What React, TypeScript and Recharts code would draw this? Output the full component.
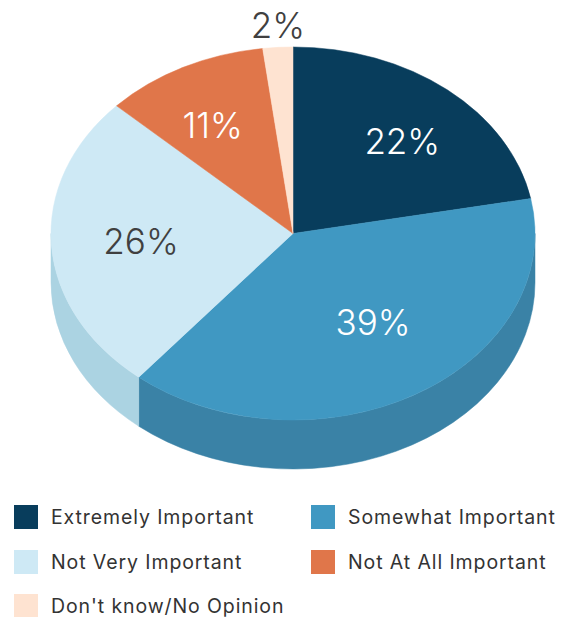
import { Legend, Pie, PieChart } from 'recharts';

const categories = ['Extremely Important', 'Somewhat Important', 'Not Very Important', 'Not At All Important', "Don't know/No Opinion"];
const shares = [22, 39, 26, 11, 2];
const topColors = ['#083d5c', '#4098c2', '#cee9f5', '#e0764a', '#fee3d1'];
const wallColors = ['#062f47', '#3a82a6', '#abd3e2', '#c0633c', '#e5ccbb'];
const labelColors = ['#ffffff', '#ffffff', '#404040', '#ffffff', '#404040'];
// fine tuning of where each percent sits, px
const labelNudge = [[9, 1], [0, -16], [5, 0], [-9, 0], [2, 0]];

const SQUASH = 0.7707; // ry / rx of the tilted disc
const DEPTH = 49;
const RAD = Math.PI / 180;

const topData = categories.map((name, i) => ({ name, value: shares[i], fill: topColors[i] }));
const wallData = categories.map((name, i) => ({ name, value: shares[i], fill: wallColors[i] }));

const pt = (cx: number, cy: number, r: number, deg: number) => ({
  x: cx + r * Math.cos(deg * RAD),
  y: cy - r * SQUASH * Math.sin(deg * RAD),
});

function TopSlice(props: any) {
  const { cx, cy, outerRadius: r, startAngle, endAngle, fill } = props;
  const a = pt(cx, cy, r, startAngle);
  const b = pt(cx, cy, r, endAngle);
  const large = Math.abs(startAngle - endAngle) > 180 ? 1 : 0;
  const d = `M${cx},${cy} L${a.x},${a.y} A${r},${r * SQUASH} 0 ${large} 1 ${b.x},${b.y} Z`;
  return <path d={d} fill={fill} stroke={fill} strokeWidth={0.5} />;
}

// only the front half of the rim is visible (-180..0 in recharts angles)
function WallSlice(props: any) {
  const { cx, cy, outerRadius: r, startAngle, endAngle, fill } = props;
  const hi = Math.min(startAngle, 0);
  const lo = Math.max(endAngle, -180);
  if (hi <= lo) return null;
  const a = pt(cx, cy, r, hi);
  const b = pt(cx, cy, r, lo);
  const ry = r * SQUASH;
  const d = `M${a.x},${a.y} A${r},${ry} 0 0 1 ${b.x},${b.y} L${b.x},${b.y + DEPTH} A${r},${ry} 0 0 0 ${a.x},${a.y + DEPTH} Z`;
  return <path d={d} fill={fill} stroke={fill} strokeWidth={0.5} />;
}

function PercentLabel(props: any) {
  const { cx, cy, outerRadius, midAngle, index, value } = props;
  const k = value < 5 ? 1.12 : 0.65;
  const p = pt(cx, cy, outerRadius * k, midAngle);
  const [dx, dy] = labelNudge[index];
  return (
    <text x={p.x + dx} y={p.y + dy} fill={labelColors[index]} textAnchor="middle" dominantBaseline="central" fontFamily="Inter" fontWeight={300} fontSize={35}>
      {value}%
    </text>
  );
}

function LegendGrid({ payload }: any) {
  const items = (payload || []).filter((e: any) => e.type !== 'none');
  return (
    <div style={{ display: 'grid', gridTemplateColumns: '297px 250px', gridAutoRows: '44.5px', paddingLeft: 14 }}>
      {items.map((e: any) => (
        <div key={e.value} style={{ display: 'flex', alignItems: 'center', height: 24 }}>
          <span style={{ width: 24, height: 24, background: e.color, marginRight: 13, flex: 'none' }} />
          <span style={{ fontFamily: 'Inter', fontSize: 19.5, letterSpacing: 0.9, color: '#333333', whiteSpace: 'nowrap' }}>{e.value}</span>
        </div>
      ))}
    </div>
  );
}

export default function App() {
  return (
    <div style={{ position: 'absolute', left: 0, top: 0 }}>
      <PieChart width={571} height={617} margin={{ top: 0, right: 0, bottom: 0, left: 0 }}>
        <Pie data={wallData} dataKey="value" nameKey="name" cx={293} cy={233.5} outerRadius={242} startAngle={90} endAngle={-270} legendType="none" shape={WallSlice} stroke="none" isAnimationActive={false} />
        <Pie data={topData} dataKey="value" nameKey="name" cx={293} cy={233.5} outerRadius={242} startAngle={90} endAngle={-270} shape={TopSlice} stroke="none" label={PercentLabel} labelLine={false} isAnimationActive={false} />
        <Legend content={LegendGrid} itemSorter={null} wrapperStyle={{ left: 0, top: 505, width: 571, bottom: 'auto' }} />
      </PieChart>
    </div>
  );
}
